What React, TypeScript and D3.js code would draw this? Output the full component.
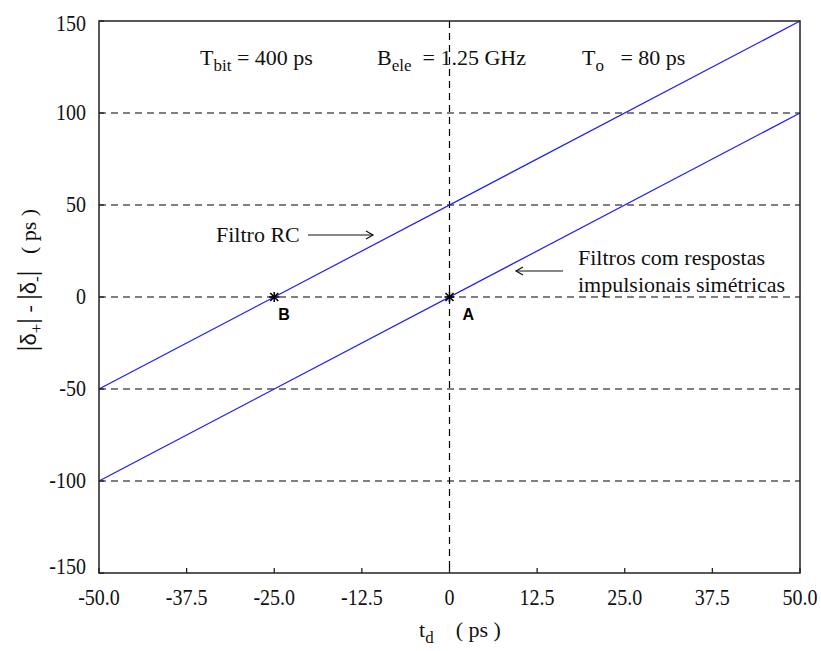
import React from "react";
import * as d3 from "d3";

// Domain and ticks
const xTicks = [-50, -37.5, -25, -12.5, 0, 12.5, 25, 37.5, 50];
const xTickLabels = ["-50.0", "-37.5", "-25.0", "-12.5", "0", "12.5", "25.0", "37.5", "50.0"];
const yTicks = [-150, -100, -50, 0, 50, 100, 150];
const yGrid = [-100, -50, 0, 50, 100];

// Curves: |δ+| - |δ-| as a function of t_d
const tdValues = [-50, 50];
const rcValues = [-50, 150]; // Filtro RC
const symValues = [-100, 100]; // Filtros com respostas impulsionais simétricas

// Marked zero crossings
const markPoints = [
  { name: "B", td: -25, v: 0 },
  { name: "A", td: 0, v: 0 },
];

const W = 821;
const H = 651;
const serif = "'Liberation Serif', 'Times New Roman', serif";
const sans = "'Liberation Sans', Arial, sans-serif";

export default function App() {
  const x = d3.scaleLinear().domain([-50, 50]).range([99, 800]);
  const y = d3.scaleLinear().domain([-150, 150]).range([573, 21]);

  const line = d3
    .line<[number, number]>()
    .x((d) => x(d[0]))
    .y((d) => y(d[1]));

  const rcPts = tdValues.map((t, i) => [t, rcValues[i]] as [number, number]);
  const symPts = tdValues.map((t, i) => [t, symValues[i]] as [number, number]);

  const axisColor = "#222";
  const dash = "7,5";
  const pre: React.CSSProperties = { whiteSpace: "pre" };

  const star = (cx: number, cy: number, key: string) => {
    const r = 5;
    return (
      <g key={key} stroke="#000" strokeWidth={1.6}>
        <line x1={cx - r} y1={cy} x2={cx + r} y2={cy} />
        <line x1={cx - r * 0.8} y1={cy - r * 0.8} x2={cx + r * 0.8} y2={cy + r * 0.8} />
        <line x1={cx - r * 0.8} y1={cy + r * 0.8} x2={cx + r * 0.8} y2={cy - r * 0.8} />
        <line x1={cx} y1={cy - r} x2={cx} y2={cy + r} />
      </g>
    );
  };

  const yLabelBaseline = (v: number) => {
    if (v === 150) return y(v) + 10;
    if (v === -150) return y(v) + 1;
    return y(v) + 7;
  };

  return (
    <svg
      width={W}
      height={H}
      style={{ position: "absolute", left: 0, top: 0, background: "#fff" }}
    >
      <rect x={0} y={0} width={W} height={H} fill="#fff" />

      {/* horizontal dashed grid */}
      {yGrid.map((v) => (
        <line
          key={`gy${v}`}
          x1={x(-50)}
          x2={x(50)}
          y1={y(v)}
          y2={y(v)}
          stroke="#000"
          strokeWidth={1.2}
          strokeDasharray={dash}
        />
      ))}
      {/* vertical dashed line at t_d = 0 */}
      <line
        x1={x(0)}
        x2={x(0)}
        y1={y(150)}
        y2={y(-150)}
        stroke="#000"
        strokeWidth={1.2}
        strokeDasharray={dash}
      />

      {/* curves */}
      <path d={line(rcPts) ?? ""} fill="none" stroke="#1a1aff" strokeWidth={1.2} />
      <path d={line(symPts) ?? ""} fill="none" stroke="#1a1aff" strokeWidth={1.2} />

      {/* frame */}
      <rect
        x={x(-50)}
        y={y(150)}
        width={x(50) - x(-50)}
        height={y(-150) - y(150)}
        fill="none"
        stroke={axisColor}
        strokeWidth={1.5}
      />

      {/* bottom ticks */}
      {xTicks.map((t) => (
        <line
          key={`tx${t}`}
          x1={x(t)}
          x2={x(t)}
          y1={y(-150)}
          y2={y(-150) - 5}
          stroke={axisColor}
          strokeWidth={1.3}
        />
      ))}
      {/* left ticks */}
      {yTicks.map((v) => (
        <line
          key={`ty${v}`}
          x1={x(-50)}
          x2={x(-50) + 5}
          y1={y(v)}
          y2={y(v)}
          stroke={axisColor}
          strokeWidth={1.3}
        />
      ))}

      {/* tick labels */}
      <g fontFamily={serif} fontSize={20} fill="#111">
        {xTicks.map((t, i) => (
          <text
            key={`lx${t}`}
            transform={`translate(${x(t)},605) scale(1,1.15)`}
            textAnchor="middle"
          >
            {xTickLabels[i]}
          </text>
        ))}
        {yTicks.map((v) => (
          <text
            key={`ly${v}`}
            transform={`translate(86,${yLabelBaseline(v)}) scale(1,1.15)`}
            textAnchor="end"
          >
            {v}
          </text>
        ))}
      </g>

      {/* markers */}
      {markPoints.map((p) => star(x(p.td), y(p.v), `m${p.name}`))}
      <g fontFamily={sans} fontSize={16} fontWeight="bold" fill="#000">
        {markPoints.map((p) => (
          <text key={`n${p.name}`} x={x(p.td) + (p.name === "A" ? 13 : 4)} y={y(p.v) + 23}>
            {p.name}
          </text>
        ))}
      </g>

      {/* annotations */}
      <g fontFamily={serif} fontSize={22} fill="#111" style={pre}>
        <text x={200} y={65} style={pre}>
          T<tspan fontSize={17} dy={6}>bit</tspan>
          <tspan dy={-6}>{" = 400 ps"}</tspan>
        </text>
        <text x={377} y={65} style={pre}>
          B<tspan fontSize={17} dy={6}>ele</tspan>
          <tspan dy={-6}>{"  = 1.25 GHz"}</tspan>
        </text>
        <text x={582} y={65} style={pre}>
          T<tspan fontSize={17} dy={6}>o</tspan>
          <tspan dy={-6}>{"   = 80 ps"}</tspan>
        </text>

        <text x={216} y={242}>Filtro RC</text>
        <text x={578} y={265}>Filtros com respostas</text>
        <text x={578} y={292}>impulsionais simétricas</text>
      </g>

      {/* arrows */}
      <g stroke="#111" strokeWidth={1.2} fill="none">
        <line x1={308} y1={235} x2={373} y2={235} />
        <path d="M366,231 L373,235 L366,239" />
        <line x1={563} y1={271} x2={516} y2={271} />
        <path d="M523,267 L516,271 L523,275" />
      </g>

      {/* axis titles */}
      <text x={419} y={637} fontFamily={serif} fontSize={22} fill="#111" style={pre}>
        t<tspan fontSize={17} dy={6}>d</tspan>
        <tspan dy={-6}>{"    ( ps )"}</tspan>
      </text>
      <text
        transform="translate(36,280) rotate(-90)"
        textAnchor="middle"
        fontFamily={serif}
        fontSize={22}
        fill="#111"
        style={pre}
      >
        <tspan fontSize={28}>|</tspan>
        <tspan fontFamily={sans}>δ</tspan>
        <tspan fontSize={17} dy={6}>+</tspan>
        <tspan dy={-6} fontSize={28}>|</tspan>
        <tspan>{" - "}</tspan>
        <tspan fontSize={28}>|</tspan>
        <tspan fontFamily={sans}>δ</tspan>
        <tspan fontSize={17} dy={6}>-</tspan>
        <tspan dy={-6} fontSize={28}>|</tspan>
        <tspan>{"   ( ps )"}</tspan>
      </text>
    </svg>
  );
}
